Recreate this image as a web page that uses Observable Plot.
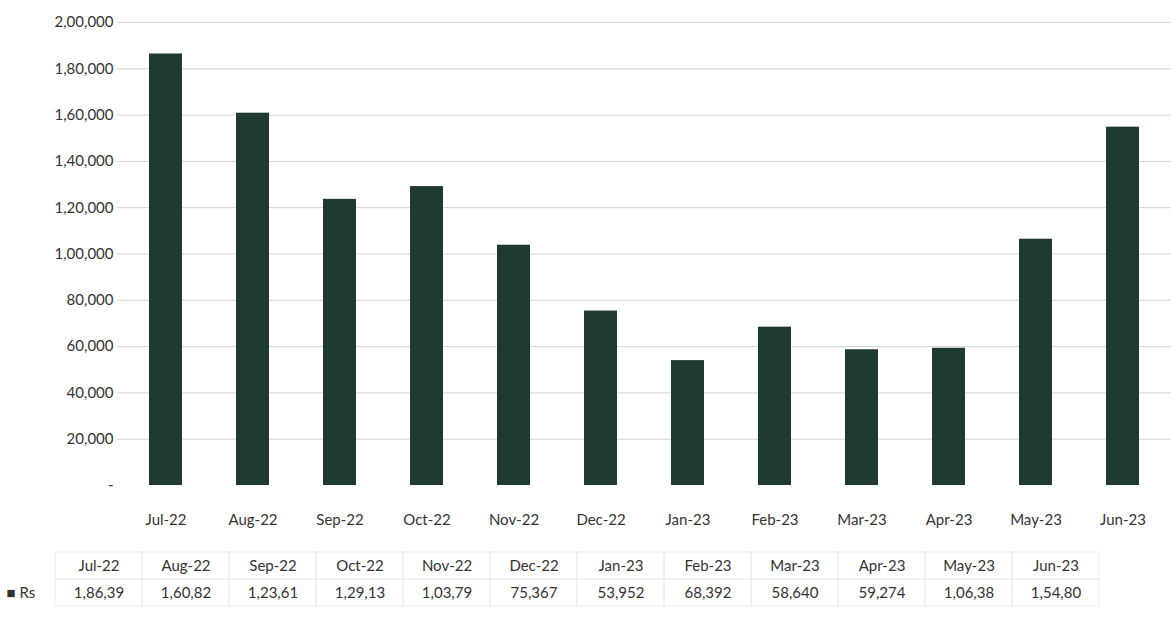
<!DOCTYPE html>
<html>
<head>
<meta charset="utf-8">
<script src="https://cdn.jsdelivr.net/npm/d3@7"></script>
<script src="https://cdn.jsdelivr.net/npm/@observablehq/plot@0.6"></script>
<style>
  html, body { margin: 0; padding: 0; background: #fff; }
  #wrap { width: 1171px; height: 634px; position: relative; overflow: hidden; font-family: Lato, "Open Sans", sans-serif; }
  #chart svg, #table svg { display: block; }
</style>
</head>
<body>
<div id="wrap">
  <div id="chart"></div>
  <div id="table"></div>
</div>
<script>
const months = ["Jul-22","Aug-22","Sep-22","Oct-22","Nov-22","Dec-22","Jan-23","Feb-23","Mar-23","Apr-23","May-23","Jun-23"];
const values = [186390, 160820, 123610, 129130, 103790, 75367, 53952, 68392, 58640, 59274, 106380, 154800];
const tableLabels = ["1,86,39","1,60,82","1,23,61","1,29,13","1,03,79","75,367","53,952","68,392","58,640","59,274","1,06,38","1,54,80"];
const yTicks = [0, 20000, 40000, 60000, 80000, 100000, 120000, 140000, 160000, 180000, 200000];
const seriesName = "Rs";

const data = months.map((m, i) => ({month: m, value: values[i], label: tableLabels[i]}));

function indian(n) {
  if (n === 0) return "-";
  const s = String(Math.round(n));
  if (s.length <= 3) return s;
  const last3 = s.slice(-3);
  let rest = s.slice(0, -3);
  const parts = [];
  while (rest.length > 2) { parts.unshift(rest.slice(-2)); rest = rest.slice(0, -2); }
  if (rest) parts.unshift(rest);
  return parts.join(",") + "," + last3;
}

const barColor = "#1f3a31";
const textColor = "#333333";

const chart = Plot.plot({
  width: 1171,
  height: 540,
  marginTop: 22,
  marginBottom: 55,
  marginLeft: 117,
  marginRight: 0,
  style: {fontFamily: "Lato, 'Open Sans', sans-serif", fontSize: "15px", color: textColor, background: "#fff"},
  x: {domain: months, paddingInner: 0.62, paddingOuter: 0.31, label: null},
  y: {domain: [0, 200000], ticks: yTicks, label: null},
  marks: [
    Plot.gridY(yTicks.filter(d => d > 0), {stroke: "#d4d4d4", strokeOpacity: 1, strokeWidth: 1}),
    Plot.barY(data, {x: "month", y: "value", fill: barColor}),
    Plot.axisY(yTicks, {tickFormat: indian, tickSize: 0, tickPadding: 4, label: null, fontSize: 15}),
    Plot.axisX({tickSize: 0, tickPadding: 29, label: null, fontSize: 15})
  ]
});
document.getElementById("chart").appendChild(chart);

const rows = ["head", "val"];
const cells = months.flatMap(m => rows.map(r => ({month: m, row: r})));

const table = Plot.plot({
  width: 1171,
  height: 90,
  marginTop: 12,
  marginBottom: 24,
  marginLeft: 52,
  marginRight: 69,
  style: {fontFamily: "Lato, 'Open Sans', sans-serif", fontSize: "15px", color: textColor, background: "#fff"},
  x: {domain: months, padding: 0, axis: null},
  y: {domain: rows, padding: 0, axis: null},
  marks: [
    Plot.cell(cells, {x: "month", y: "row", fill: "none", stroke: "#ececec", strokeWidth: 1}),
    Plot.text(data, {x: "month", y: () => "head", text: "month", fontSize: 15, fill: textColor}),
    Plot.text(data, {x: "month", y: () => "val", text: "label", fontSize: 15, fill: textColor}),
    Plot.text([seriesName], {y: () => "val", frameAnchor: "left", dx: -46, text: d => "\u25A0 " + d, textAnchor: "start", fontSize: 15, fill: textColor})
  ]
});
document.getElementById("table").appendChild(table);
</script>
</body>
</html>
